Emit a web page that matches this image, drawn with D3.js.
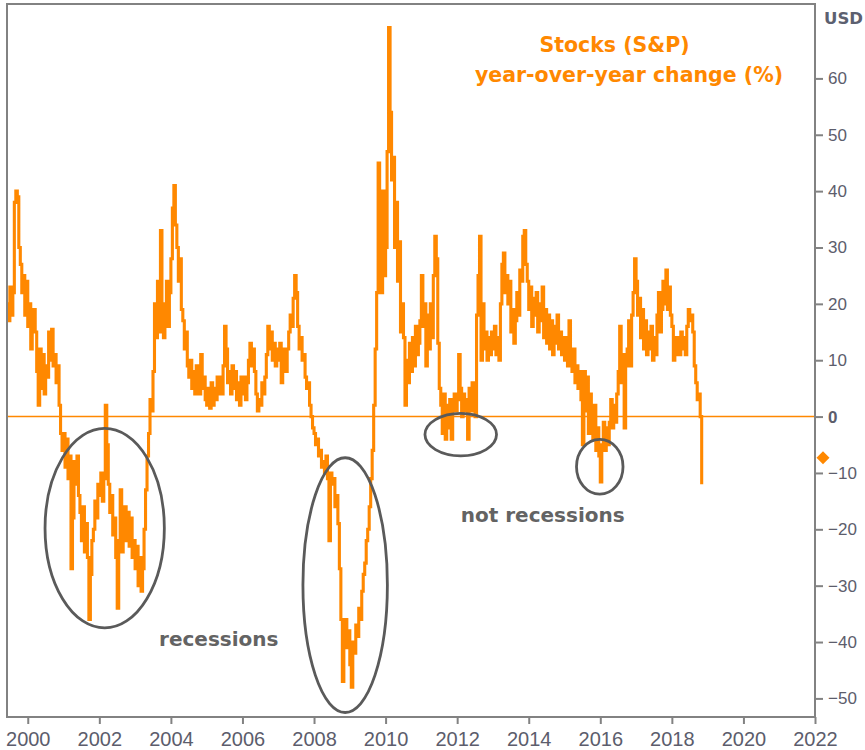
<!DOCTYPE html>
<html>
<head>
<meta charset="utf-8">
<script src="https://cdn.jsdelivr.net/npm/d3@7/dist/d3.min.js"></script>
<style>
  html, body { margin: 0; padding: 0; background: #ffffff; }
  svg { display: block; }
</style>
</head>
<body>
<script>
// ---------------- DATA ----------------
// S&P 500 year-over-year change (%), half-monthly readings starting June 1999
const startYear = 1999 + 10 / 24;
const stepsPerYear = 24;
const yoy = [
  // 1999 (Jun-Dec)
  20, 17, 23, 18, 22, 38, 40, 39, 30, 27, 22, 25, 18, 24,
  // 2000
  16, 20, 12, 18, 19, 15, 8, 2, 12, 5, 11, 4, 9, 7, 15, 10, 15.5, 9, 11, 6, 9, 2, -3, -6,
  // 2001
  -3, -9, -4, -11, -7, -27, -18, -8, -12, -7, -14, -17, -22, -16, -24, -19, -25, -36, -28, -22, -20, -15, -18, -12,
  // 2002
  -14, -10, -15, -11, 2, -5, -12, -17, -14, -21, -18, -25, -34, -22, -13, -24, -19, -16, -22, -17, -23, -18, -25, -22,
  // 2003
  -27, -23, -30, -25, -31, -27, -20, -13, -7, -3, 3, 1, 8, 20, 14, 24, 15, 33, 20, 14, 19, 24, 16, 22,
  // 2004
  28, 37, 41, 34, 30, 24, 28, 19, 17, 12, 15, 9, 7, 10, 5, 8, 4, 9, 6, 4, 11, 5, 7, 3,
  // 2005
  2, 5, 1.5, 6, 2, 5, 3, 7, 4, 7, 4, 9, 16, 12, 6, 8, 4, 9, 5, 8, 3, 6, 2, 7,
  // 2006
  4, 7, 3, 6, 10, 13, 9, 12, 8, 4, 1, 3, 2, 6, 4, 7, 11, 16, 12, 15, 10, 13, 9, 12,
  // 2007
  10, 13, 6, 12, 9, 8, 12, 15, 18, 16, 21, 25, 22, 16, 12, 14, 10, 11, 7, 5, 6, 2, 0, -2,
  // 2008
  -3, -5, -4, -7, -6, -9, -8, -10, -7, -11, -22, -10, -12, -11, -16, -14, -19, -27, -36, -47, -40, -36, -41, -38,
  // 2009
  -44, -48, -40, -42, -37, -39, -34, -36, -31, -28, -26, -22, -20, -16, -11, -6, 2, 12, 22, 45, 30, 22, 40, 25,
  // 2010
  30, 47, 69, 54, 42, 46, 30, 38, 24, 31, 15, 20, 14, 2, 10, 6, 13, 8, 14, 9, 16, 11, 13, 17,
  // 2011
  25, 16, 20, 9, 18, 12, 20, 14, 25, 32, 28, 13, 5, 2, -3, 4, -4, 2, -2, 3, -4, 1, 4, 1,
  // 2012
  3, 11, 5, 0, 4, 1, 3, -4, 5, 1, 6, 2, 0, 18, 25, 32, 10, 20, 12, 15, 10, 14, 11, 15,
  // 2013
  12, 16, 11, 14, 10, 20, 27, 29, 22, 25, 20, 24, 15, 19, 13, 17, 22, 18, 26, 24, 32, 33, 27, 24,
  // 2014
  19, 23, 16, 21, 18, 22, 15, 20, 17, 23, 14, 19, 13, 18, 12, 17, 11, 16, 13, 18, 12, 15, 11, 14,
  // 2015
  10, 14, 9, 17, 11, 8, 12, 6, 9, 5, 8, 3, -5, 8, 1, 7, -3, 4, 0, -4, 2, -6, -2, -7,
  // 2016
  -11.6, -5, -1, -6, -2, -5, -1, 3, -2, 2, -1, 4, 8, 16, 6, 11, -2, 9, 12, 17, 9, 18, 22, 28,
  // 2017
  24, 18, 21, 14, 19, 12, 17, 11, 15, 12, 16, 10, 14, 11, 18, 22, 15, 19, 24, 20, 26, 19, 23, 18,
  // 2018 (Jan-Oct)
  16, 10, 14, 11, 14, 11, 15, 12, 14, 11, 16, 19, 17, 18, 15, 9, 6, 3, 4, 0, -12
];
const latestMarker = -7.3;   // diamond on the right axis

const xTicks = [2000, 2002, 2004, 2006, 2008, 2010, 2012, 2014, 2016, 2018, 2020, 2022];
const yTicks = [-50, -40, -30, -20, -10, 0, 10, 20, 30, 40, 50, 60];
const xDomain = [1999.42, 2022];
const yDomain = [-53.3, 73.2];

const titleLines = ["Stocks (S&P)", "year-over-year change (%)"];
const unitLabel = "USD";

// annotations: centre (year, value), radii (years, value units)
const ellipseCx = [2002.15, 2008.87, 2012.10, 2015.985];
const ellipseCy = [-19.8, -29.9, -3.2, -8.9];
const ellipseRx = [1.667, 1.18, 1.0, 0.65];
const ellipseRy = [17.7, 22.6, 3.76, 4.84];
const noteTexts = ["recessions", "not recessions"];
const noteYears = [2003.67, 2012.1];
const noteValues = [-40.7, -18.7];

// ---------------- LAYOUT ----------------
const W = 865, H = 750;
const L = 7, R = 815, T = 4, B = 717;
const orange = "#ff8800";
const tickGrey = "#5c5d6c";

const svg = d3.select("body").append("svg").attr("width", W).attr("height", H);
svg.append("rect").attr("width", W).attr("height", H).attr("fill", "#fff");

const x = d3.scaleLinear().domain(xDomain).range([L, R]);
const y = d3.scaleLinear().domain(yDomain).range([B, T]);

const points = yoy.map((v, i) => ({ t: startYear + i / stepsPerYear, v }));

// zero line
svg.append("line")
  .attr("x1", L).attr("x2", R).attr("y1", y(0)).attr("y2", y(0))
  .attr("stroke", orange).attr("stroke-width", 1.5);

// series
const line = d3.line().x(d => x(d.t)).y(d => y(d.v)).curve(d3.curveStepAfter);
svg.append("path").datum(points)
  .attr("d", line)
  .attr("fill", "none")
  .attr("stroke", orange)
  .attr("stroke-width", 3.1);

// ellipses
ellipseCx.forEach((cx, i) => {
  svg.append("ellipse")
    .attr("cx", x(cx)).attr("cy", y(ellipseCy[i]))
    .attr("rx", x(cx + ellipseRx[i]) - x(cx))
    .attr("ry", y(ellipseCy[i] - ellipseRy[i]) - y(ellipseCy[i]))
    .attr("fill", "none").attr("stroke", "#5a5a5a").attr("stroke-width", 2.8);
});

// annotation text
noteTexts.forEach((t, i) => {
  svg.append("text")
    .attr("x", x(noteYears[i])).attr("y", y(noteValues[i]))
    .attr("font-family", "'DejaVu Sans', Verdana, sans-serif")
    .attr("font-weight", "bold").attr("font-size", 20)
    .attr("fill", "#636363")
    .text(t);
});

// frame
svg.append("rect")
  .attr("x", L).attr("y", T).attr("width", R - L).attr("height", B - T)
  .attr("fill", "none").attr("stroke", "#828282").attr("stroke-width", 2);

// right axis
const yAxis = svg.append("g").attr("transform", `translate(${R},0)`)
  .call(d3.axisRight(y).tickValues(yTicks).tickSize(8).tickPadding(5));
yAxis.select(".domain").remove();
yAxis.selectAll(".tick line").attr("stroke", "#828282").attr("stroke-width", 2);
yAxis.selectAll(".tick text")
  .attr("font-family", "'Liberation Sans', Arial, sans-serif")
  .attr("font-size", 17).attr("fill", tickGrey)
  .attr("font-weight", d => d === 0 ? "bold" : "normal");

// bottom axis
const xAxis = svg.append("g").attr("transform", `translate(0,${B})`)
  .call(d3.axisBottom(x).tickValues(xTicks).tickFormat(d3.format("d")).tickSize(7).tickPadding(8));
xAxis.select(".domain").remove();
xAxis.selectAll(".tick line").attr("stroke", "#828282").attr("stroke-width", 2);
xAxis.selectAll(".tick text")
  .attr("font-family", "'Liberation Sans Narrow', 'Liberation Sans', Arial, sans-serif")
  .attr("font-size", 20).attr("fill", tickGrey);

// unit label
svg.append("text")
  .attr("x", 824).attr("y", 24)
  .attr("font-family", "'DejaVu Sans', Verdana, sans-serif")
  .attr("font-weight", "bold").attr("font-size", 16.5)
  .attr("fill", "#5c6070")
  .text(unitLabel);

// latest value marker
svg.append("path")
  .attr("d", d3.symbol(d3.symbolSquare, 85)())
  .attr("transform", `translate(${R + 8},${y(latestMarker)}) rotate(45)`)
  .attr("fill", orange);

// title
const titleX = [614.5, 629];
const titleY = [52, 82];
titleLines.forEach((t, i) => {
  svg.append("text")
    .attr("x", titleX[i]).attr("y", titleY[i])
    .attr("text-anchor", "middle")
    .attr("font-family", "'DejaVu Sans', Verdana, sans-serif")
    .attr("font-weight", "bold").attr("font-size", 20.5)
    .attr("fill", orange)
    .text(t);
});
</script>
</body>
</html>
